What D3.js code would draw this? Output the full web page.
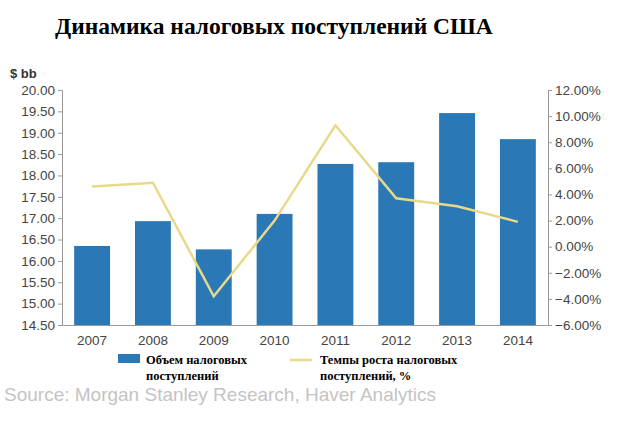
<!DOCTYPE html>
<html><head><meta charset="utf-8">
<script src="https://cdn.jsdelivr.net/npm/d3@7"></script>
<style>body{margin:0;background:#fff}</style></head>
<body><svg id="c" width="640" height="424"></svg>
<script>
const years=["2007","2008","2009","2010","2011","2012","2013","2014"];
const revenue=[16.35,16.93,16.27,17.1,18.27,18.31,19.46,18.85];
const growth=[4.6,4.9,-3.8,2.0,9.3,3.7,3.1,1.9];
const leftTicks=[14.5,15,15.5,16,16.5,17,17.5,18,18.5,19,19.5,20];
const rightTicks=[-6,-4,-2,0,2,4,6,8,10,12];
const svg=d3.select("#c");
const L=62,R=548,T=90,B=325;
const x=d3.scaleBand().domain(years).range([L,R]).paddingInner(0.41).paddingOuter(0.2);
const y=d3.scaleLinear().domain([14.5,20]).range([B,T]);
const y2=d3.scaleLinear().domain([-6,12]).range([B,T]);
svg.append("text").attr("x",55).attr("y",34).attr("font-family","Liberation Serif").attr("font-weight","bold").attr("font-size",23.5).text("Динамика налоговых поступлений США");
svg.append("text").attr("x",10).attr("y",78).attr("font-family","Liberation Sans").attr("font-weight","bold").attr("font-size",13).attr("fill","#333").text("$ bb");
svg.selectAll(".bar").data(years).enter().append("rect").attr("x",d=>x(d)).attr("width",x.bandwidth())
 .attr("y",(d,i)=>y(revenue[i])).attr("height",(d,i)=>B-y(revenue[i])).attr("fill","#2a78b5");
const line=d3.line().x((d,i)=>x(years[i])+x.bandwidth()/2).y(d=>y2(d));
svg.append("path").datum(growth).attr("d",line).attr("fill","none").attr("stroke","#e8d98a").attr("stroke-width",2.5);
const gl=svg.append("g").attr("transform",`translate(${L},0)`).call(d3.axisLeft(y).tickValues(leftTicks).tickFormat(d3.format(".2f")).tickSize(4));
const gr=svg.append("g").attr("transform",`translate(${R},0)`).call(d3.axisRight(y2).tickValues(rightTicks).tickFormat(d=>d3.format(".2f")(d)+"%").tickSize(4));
const gb=svg.append("g").attr("transform",`translate(0,${B})`).call(d3.axisBottom(x).tickSize(0).tickPadding(10));
[gl,gr,gb].forEach(g=>{g.selectAll("text").attr("font-family","Liberation Sans").attr("font-size",13.5).attr("fill","#444");g.selectAll("path,line").attr("stroke","#999");});
const lf="Liberation Serif";
svg.append("rect").attr("x",118).attr("y",354).attr("width",22).attr("height",9).attr("fill","#2a78b5");
svg.append("text").attr("x",146).attr("y",364).attr("font-family",lf).attr("font-weight","bold").attr("font-size",12.5).text("Объем налоговых");
svg.append("text").attr("x",146).attr("y",380).attr("font-family",lf).attr("font-weight","bold").attr("font-size",12.5).text("поступлений");
svg.append("line").attr("x1",290).attr("x2",312).attr("y1",360).attr("y2",360).attr("stroke","#e8d98a").attr("stroke-width",2.5);
svg.append("text").attr("x",320).attr("y",364).attr("font-family",lf).attr("font-weight","bold").attr("font-size",12.5).text("Темпы роста налоговых");
svg.append("text").attr("x",320).attr("y",380).attr("font-family",lf).attr("font-weight","bold").attr("font-size",12.5).text("поступлений, %");
svg.append("text").attr("x",4).attr("y",401).attr("font-family","Liberation Sans").attr("font-size",19).attr("fill","#c4c4c4").text("Source: Morgan Stanley Research, Haver Analytics");
</script></body></html>
